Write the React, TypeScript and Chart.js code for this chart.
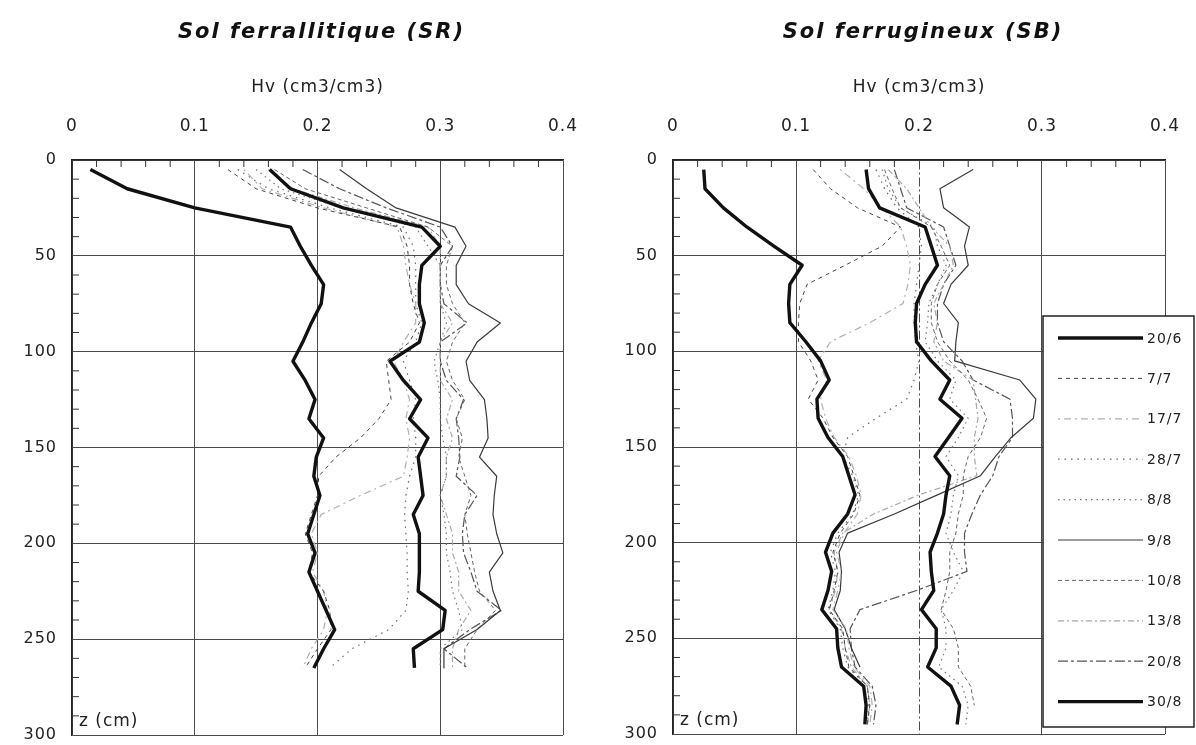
import React, { useEffect, useRef } from 'react';
import { Chart, registerables } from 'chart.js';

Chart.register(...registerables);

const FONT = '"DejaVu Sans", sans-serif';

const SERIES_LABELS = ['20/6', '7/7', '17/7', '28/7', '8/8', '9/8', '10/8', '13/8', '20/8', '30/8'];

const X_TICK_VALUES = [0, 0.1, 0.2, 0.3, 0.4];
const X_TICK_LABELS = ['0', '0.1', '0.2', '0.3', '0.4'];
const Y_TICK_VALUES = [0, 50, 100, 150, 200, 250, 300];
const Y_TICK_LABELS = ['0', '50', '100', '150', '200', '250', '300'];

// ---------- Sol ferrallitique (SR) ----------
const SR_DEPTHS = [5, 15, 25, 35, 45, 55, 65, 75, 85, 95, 105, 115, 125, 135, 145, 155, 165, 175, 185, 195, 205, 215, 225, 235, 245, 255, 265];
const SR_20_6 = [0.015, 0.045, 0.100, 0.178, 0.186, 0.195, 0.205, 0.203, 0.195, 0.188, 0.180, 0.190, 0.198, 0.193, 0.205, 0.199, 0.197, 0.202, 0.197, 0.192, 0.198, 0.193, 0.200, 0.207, 0.214, 0.205, 0.197];
const SR_7_7 = [0.127, 0.150, 0.200, 0.267, 0.273, 0.275, 0.275, 0.278, 0.283, 0.275, 0.256, 0.258, 0.260, 0.250, 0.235, 0.215, 0.201, 0.200, 0.195, 0.190, 0.196, 0.193, 0.205, 0.210, 0.211, 0.200, 0.190];
const SR_17_7 = [0.140, 0.155, 0.205, 0.265, 0.270, 0.272, 0.275, 0.280, 0.280, 0.270, 0.262, 0.270, 0.275, 0.272, 0.275, 0.273, 0.270, 0.235, 0.203, 0.195, 0.200, 0.196, 0.205, 0.208, 0.205, 0.195, 0.188];
const SR_28_7 = [0.135, 0.160, 0.210, 0.270, 0.278, 0.280, 0.280, 0.280, 0.285, 0.280, 0.270, 0.275, 0.280, 0.278, 0.280, 0.280, 0.275, 0.272, 0.271, 0.272, 0.273, 0.273, 0.274, 0.272, 0.258, 0.228, 0.210];
const SR_8_8 = [0.150, 0.170, 0.220, 0.280, 0.290, 0.300, 0.300, 0.300, 0.305, 0.300, 0.295, 0.298, 0.300, 0.300, 0.302, 0.305, 0.305, 0.300, 0.303, 0.305, 0.305, 0.308, 0.310, 0.315, 0.318, 0.300, 0.300];
const SR_9_8 = [0.218, 0.240, 0.264, 0.312, 0.321, 0.313, 0.313, 0.323, 0.349, 0.330, 0.321, 0.324, 0.336, 0.338, 0.339, 0.332, 0.346, 0.344, 0.343, 0.346, 0.351, 0.340, 0.343, 0.349, 0.330, 0.303, 0.303];
const SR_10_8 = [0.165, 0.190, 0.240, 0.290, 0.310, 0.305, 0.305, 0.310, 0.320, 0.310, 0.305, 0.310, 0.320, 0.313, 0.318, 0.315, 0.320, 0.325, 0.320, 0.322, 0.325, 0.328, 0.332, 0.345, 0.330, 0.320, 0.320];
const SR_13_8 = [0.160, 0.180, 0.230, 0.290, 0.300, 0.300, 0.300, 0.300, 0.310, 0.300, 0.300, 0.300, 0.310, 0.305, 0.310, 0.305, 0.305, 0.300, 0.305, 0.310, 0.310, 0.315, 0.315, 0.325, 0.315, 0.310, 0.310];
const SR_20_8 = [0.188, 0.218, 0.256, 0.300, 0.310, 0.300, 0.300, 0.303, 0.322, 0.300, 0.300, 0.305, 0.319, 0.313, 0.315, 0.316, 0.313, 0.330, 0.320, 0.318, 0.319, 0.325, 0.330, 0.350, 0.324, 0.303, 0.322];
const SR_30_8 = [0.161, 0.178, 0.221, 0.285, 0.300, 0.285, 0.283, 0.283, 0.287, 0.283, 0.259, 0.270, 0.284, 0.275, 0.290, 0.282, 0.284, 0.286, 0.278, 0.283, 0.283, 0.283, 0.282, 0.304, 0.302, 0.278, 0.279];

// ---------- Sol ferrugineux (SB) ----------
const SB_DEPTHS = [5, 15, 25, 35, 45, 55, 65, 75, 85, 95, 105, 115, 125, 135, 145, 155, 165, 175, 185, 195, 205, 215, 225, 235, 245, 255, 265, 275, 285, 295];
const SB_20_6 = [0.025, 0.026, 0.041, 0.060, 0.082, 0.105, 0.095, 0.094, 0.095, 0.108, 0.120, 0.127, 0.117, 0.118, 0.126, 0.138, 0.143, 0.148, 0.142, 0.130, 0.124, 0.129, 0.126, 0.121, 0.133, 0.134, 0.137, 0.155, 0.157, 0.156];
const SB_7_7 = [0.114, 0.128, 0.150, 0.185, 0.170, 0.140, 0.109, 0.103, 0.102, 0.102, 0.112, 0.118, 0.110, 0.122, 0.130, 0.142, 0.147, 0.152, 0.147, 0.136, 0.130, 0.134, 0.131, 0.127, 0.138, 0.140, 0.143, 0.158, 0.160, 0.158];
const SB_17_7 = [0.136, 0.155, 0.170, 0.185, 0.190, 0.193, 0.191, 0.187, 0.160, 0.128, 0.118, 0.125, 0.120, 0.124, 0.131, 0.143, 0.149, 0.153, 0.150, 0.139, 0.133, 0.137, 0.134, 0.130, 0.141, 0.143, 0.147, 0.160, 0.162, 0.160];
const SB_28_7 = [0.165, 0.172, 0.182, 0.200, 0.202, 0.200, 0.198, 0.196, 0.196, 0.197, 0.200, 0.196, 0.190, 0.165, 0.142, 0.138, 0.146, 0.151, 0.146, 0.134, 0.128, 0.132, 0.130, 0.126, 0.136, 0.138, 0.142, 0.158, 0.159, 0.158];
const SB_8_8 = [0.170, 0.175, 0.185, 0.212, 0.215, 0.222, 0.215, 0.208, 0.207, 0.205, 0.215, 0.230, 0.225, 0.240, 0.232, 0.222, 0.232, 0.228, 0.226, 0.222, 0.228, 0.236, 0.228, 0.218, 0.222, 0.222, 0.216, 0.235, 0.240, 0.238];
const SB_9_8 = [0.244, 0.217, 0.220, 0.241, 0.237, 0.240, 0.226, 0.220, 0.232, 0.230, 0.229, 0.282, 0.295, 0.293, 0.275, 0.262, 0.250, 0.215, 0.180, 0.142, 0.135, 0.137, 0.136, 0.131, 0.140, 0.145, 0.152, null, null, null];
const SB_10_8 = [0.172, 0.178, 0.185, 0.210, 0.218, 0.225, 0.215, 0.210, 0.210, 0.215, 0.225, 0.240, 0.248, 0.255, 0.250, 0.240, 0.236, 0.236, 0.232, 0.230, 0.225, 0.225, 0.222, 0.218, 0.228, 0.232, 0.232, 0.242, 0.245, null];
const SB_13_8 = [0.175, 0.190, 0.200, 0.210, 0.225, 0.228, 0.220, 0.212, 0.215, 0.212, 0.220, 0.244, 0.246, 0.248, 0.245, 0.245, 0.247, 0.200, 0.163, 0.138, 0.131, 0.134, 0.132, 0.127, 0.137, 0.140, 0.145, 0.158, 0.160, 0.158];
const SB_20_8 = [0.180, 0.185, 0.190, 0.220, 0.225, 0.230, 0.220, 0.215, 0.215, 0.220, 0.235, 0.244, 0.274, 0.276, 0.276, 0.265, 0.260, 0.250, 0.243, 0.237, 0.237, 0.239, 0.198, 0.152, 0.144, 0.145, 0.148, 0.162, 0.165, 0.163];
const SB_30_8 = [0.157, 0.159, 0.168, 0.205, 0.210, 0.215, 0.205, 0.198, 0.197, 0.198, 0.210, 0.225, 0.217, 0.235, 0.224, 0.213, 0.225, 0.222, 0.220, 0.215, 0.209, 0.210, 0.212, 0.202, 0.214, 0.214, 0.207, 0.226, 0.233, 0.231];

const SR_VALUES = [SR_20_6, SR_7_7, SR_17_7, SR_28_7, SR_8_8, SR_9_8, SR_10_8, SR_13_8, SR_20_8, SR_30_8];
const SB_VALUES = [SB_20_6, SB_7_7, SB_17_7, SB_28_7, SB_8_8, SB_9_8, SB_10_8, SB_13_8, SB_20_8, SB_30_8];

const STYLES = [
  { color: '#111111', width: 3.4, dash: [] as number[] },
  { color: '#444444', width: 1, dash: [4, 4] },
  { color: '#b0b0b0', width: 1.2, dash: [2, 4, 7, 4] },
  { color: '#666666', width: 1.2, dash: [1.5, 5] },
  { color: '#777777', width: 1.2, dash: [1.5, 4] },
  { color: '#3a3a3a', width: 1.2, dash: [] as number[] },
  { color: '#666666', width: 1, dash: [4, 3] },
  { color: '#a8a8a8', width: 1.2, dash: [6, 3, 2, 3] },
  { color: '#555555', width: 1.2, dash: [10, 3, 3, 3] },
  { color: '#111111', width: 3.4, dash: [] as number[] },
];

type PanelCfg = {
  title: string;
  depths: number[];
  values: (number | null)[][];
  axisWidth: number;
  padRight: number;
  padBottom: number;
  legend: boolean;
  dashedGridX: number | null;
};

function decorPlugin(cfg: PanelCfg) {
  return {
    id: 'decor',
    beforeDraw(chart: any) {
      chart.ctx.letterSpacing = '1px';
    },
    beforeDatasetsDraw(chart: any) {
      const { ctx, chartArea: a, scales } = chart;
      const xs = scales.x;
      const ys = scales.y;
      ctx.save();
      ctx.strokeStyle = '#333';
      ctx.lineWidth = 1;
      ctx.beginPath();
      for (let k = 1; k < 20; k++) {
        if (k % 5 === 0) continue;
        const px = xs.getPixelForValue(k * 0.02);
        ctx.moveTo(px, a.top);
        ctx.lineTo(px, a.top + 7);
      }
      for (let k = 1; k < 30; k++) {
        if (k % 5 === 0) continue;
        const py = ys.getPixelForValue(k * 10);
        ctx.moveTo(a.left, py);
        ctx.lineTo(a.left + 7, py);
      }
      ctx.stroke();
      ctx.restore();
    },
    afterDraw(chart: any) {
      const { ctx, chartArea: a } = chart;
      ctx.save();
      ctx.fillStyle = '#111';
      ctx.letterSpacing = '2px';
      ctx.font = `italic bold 21px ${FONT}`;
      ctx.textAlign = 'center';
      ctx.textBaseline = 'middle';
      ctx.fillText(cfg.title, (a.left + a.right) / 2 + 4, 33);

      ctx.letterSpacing = '1px';
      ctx.font = `17px ${FONT}`;
      ctx.textAlign = 'left';
      ctx.fillStyle = '#222';
      ctx.fillText('z (cm)', a.left + 7, a.bottom - 13);

      if (cfg.legend) {
        const bx = 445, by = 316, bw = 151, bh = 411;
        ctx.fillStyle = '#fff';
        ctx.fillRect(bx, by, bw, bh);
        ctx.strokeStyle = '#222';
        ctx.lineWidth = 1.5;
        ctx.strokeRect(bx, by, bw, bh);
        ctx.font = `14px ${FONT}`;
        ctx.letterSpacing = '1px';
        chart.data.datasets.forEach((ds: any, i: number) => {
          const y = by + 22 + i * 40.4;
          ctx.save();
          ctx.strokeStyle = ds.borderColor;
          ctx.lineWidth = ds.borderWidth;
          ctx.setLineDash(ds.borderDash || []);
          ctx.beginPath();
          ctx.moveTo(bx + 15, y);
          ctx.lineTo(bx + 100, y);
          ctx.stroke();
          ctx.restore();
          ctx.fillStyle = '#222';
          ctx.textBaseline = 'middle';
          ctx.fillText(ds.label, bx + 104, y + 1);
        });
      }
      ctx.restore();
    },
  };
}

function makeChart(canvas: HTMLCanvasElement, cfg: PanelCfg) {
  const datasets = SERIES_LABELS.map((label, i) => {
    const vals = cfg.values[i];
    const pts = cfg.depths
      .map((z, k) => ({ x: vals[k], y: z }))
      .filter((p) => p.x !== null && p.x !== undefined);
    return {
      label,
      data: pts,
      borderColor: STYLES[i].color,
      backgroundColor: STYLES[i].color,
      borderWidth: STYLES[i].width,
      borderDash: STYLES[i].dash,
      borderJoinStyle: 'round' as const,
      pointRadius: 0,
      pointHoverRadius: 0,
      showLine: true,
      fill: false,
      tension: 0,
      order: STYLES[i].width > 2 ? 0 : 1,
    };
  });

  const labelFor = (values: number[], labels: string[], v: number) => {
    const idx = values.findIndex((t) => Math.abs(t - v) < 1e-9);
    return idx >= 0 ? labels[idx] : '';
  };

  return new Chart(canvas, {
    type: 'scatter',
    data: { datasets },
    options: {
      responsive: false,
      animation: false,
      events: [],
      layout: { padding: { left: 0, top: 0, right: cfg.padRight, bottom: cfg.padBottom }, autoPadding: false },
      plugins: {
        legend: { display: false },
        tooltip: { enabled: false },
        title: { display: false },
      },
      scales: {
        x: {
          type: 'linear',
          position: 'top',
          min: 0,
          max: 0.4,
          ticks: {
            stepSize: 0.1,
            padding: 23,
            color: '#222',
            font: { family: FONT, size: 17 },
            callback: (v: number) => labelFor(X_TICK_VALUES, X_TICK_LABELS, v),
          },
          grid: { color: '#4a4a4a', lineWidth: 1, drawTicks: false },
          border: {
            display: true,
            color: '#222',
            width: 1.5,
            dash: (ctx: any) =>
              cfg.dashedGridX !== null && ctx.tick && Math.abs(ctx.tick.value - cfg.dashedGridX) < 1e-9 ? [9, 3, 2, 3] : [],
          },
          title: {
            display: true,
            text: 'Hv (cm3/cm3)',
            color: '#222',
            font: { family: FONT, size: 17 },
            padding: { top: 77, bottom: 0 },
          },
          afterFit: (s: any) => {
            s.height = 160;
            s.paddingLeft = 0;
            s.paddingRight = 0;
          },
        },
        y: {
          type: 'linear',
          reverse: true,
          min: 0,
          max: 300,
          ticks: {
            stepSize: 50,
            padding: 15,
            color: '#222',
            font: { family: FONT, size: 16 },
            callback: (v: number) => labelFor(Y_TICK_VALUES, Y_TICK_LABELS, v),
          },
          grid: { color: '#4a4a4a', lineWidth: 1, drawTicks: false },
          border: { display: true, color: '#222', width: 1.5 },
          afterFit: (s: any) => {
            s.width = cfg.axisWidth;
            s.paddingTop = 0;
            s.paddingBottom = 0;
          },
        },
      },
    } as any,
    plugins: [decorPlugin(cfg)],
  });
}

export default function App() {
  const leftRef = useRef<HTMLCanvasElement | null>(null);
  const rightRef = useRef<HTMLCanvasElement | null>(null);

  useEffect(() => {
    const left = makeChart(leftRef.current!, {
      title: 'Sol ferrallitique (SR)',
      depths: SR_DEPTHS,
      values: SR_VALUES,
      axisWidth: 72,
      padRight: 35,
      padBottom: 10,
      legend: false,
      dashedGridX: null,
    });
    const right = makeChart(rightRef.current!, {
      title: 'Sol ferrugineux (SB)',
      depths: SB_DEPTHS,
      values: SB_VALUES,
      axisWidth: 75,
      padRight: 31,
      padBottom: 11,
      legend: true,
      dashedGridX: 0.2,
    });
    return () => {
      left.destroy();
      right.destroy();
    };
  }, []);

  return (
    <div style={{ position: 'absolute', left: 0, top: 0, width: 1196, height: 745, background: '#fff', overflow: 'hidden' }}>
      <canvas ref={leftRef} width={598} height={745} style={{ position: 'absolute', left: 0, top: 0 }} />
      <canvas ref={rightRef} width={598} height={745} style={{ position: 'absolute', left: 598, top: 0 }} />
    </div>
  );
}
